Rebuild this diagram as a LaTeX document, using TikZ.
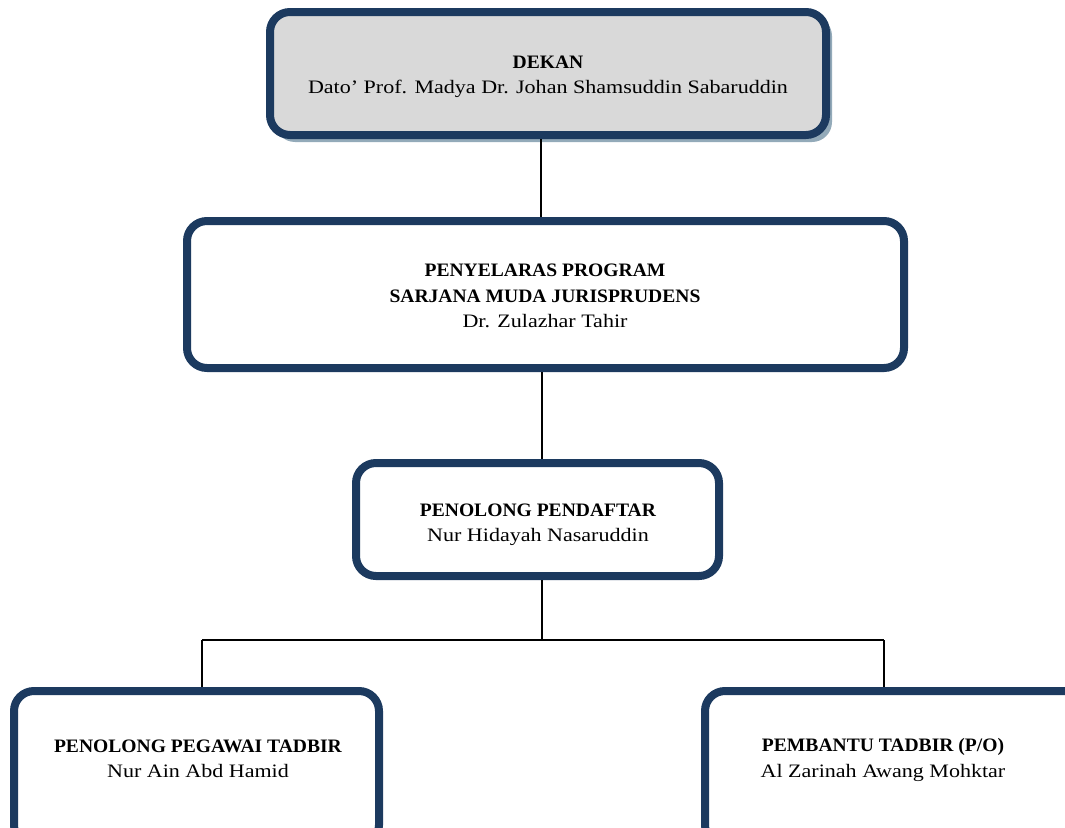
\documentclass[tikz,border=0pt]{standalone}
\usepackage{fontspec}
\setmainfont{Liberation Serif}[UprightFeatures={FakeStretch=1.16},BoldFeatures={FakeStretch=1.03}]
\definecolor{boxblue}{HTML}{1C3A5F}
\definecolor{shadowblue}{HTML}{93AAB9}
\definecolor{boxgray}{HTML}{D9D9D9}
\begin{document}
\begin{tikzpicture}[x=1pt,y=-1pt,
  orgbox/.style={draw=boxblue, line width=8pt, rounded corners=20pt, fill=white},
  conn/.style={draw=black, line width=1.8pt},
  lbl/.style={align=center, font=\fontsize{19}{25.5}\selectfont, inner sep=0pt}]
\useasboundingbox (0,0) rectangle (1065,827);
\clip (0,0) rectangle (1065,827);
\coordinate (j1) at (542,640);
\coordinate (jl) at (202,640);
\coordinate (jr) at (884,640);
% Dekan
\fill[shadowblue, rounded corners=20pt] (275,16) rectangle (832,142);
\draw[orgbox, fill=boxgray] (270,12) rectangle (826,135);
\node[lbl] (dekan) at (548,77) {\textbf{DEKAN}\\Dato’ Prof. Madya Dr. Johan Shamsuddin Sabaruddin};
% Penyelaras
\draw[orgbox] (187,221) rectangle (904,368);
\node[lbl] (peny) at (545,296) {\textbf{PENYELARAS PROGRAM}\\\textbf{SARJANA MUDA JURISPRUDENS}\\Dr. Zulazhar Tahir};
% Penolong pendaftar
\draw[orgbox] (356,463) rectangle (719,576);
\node[lbl] (pend) at (538,525) {\textbf{PENOLONG PENDAFTAR}\\Nur Hidayah Nasaruddin};
% bottom boxes
\draw[orgbox] (14,691) rectangle (379,845);
\node[lbl] (ppt) at (198,759) {\textbf{PENOLONG PEGAWAI TADBIR}\\Nur Ain Abd Hamid};
\draw[orgbox] (705,691) rectangle (1085,845);
\node[lbl] (pt) at (883,760) {\textbf{PEMBANTU TADBIR (P/O)}\\Al Zarinah Awang Mohktar};
% connection points
\coordinate (dekB) at (541,139);
\coordinate (penyT) at (541,217);
\coordinate (penyB) at (542,372);
\coordinate (pendT) at (542,459);
\coordinate (pendB) at (542,580);
\coordinate (pptT) at (202,687);
\coordinate (ptT) at (884,687);
\draw[conn] (dekB) -- (penyT);
\draw[conn] (penyB) -- (pendT);
\draw[conn] (pendB) -- (j1);
\draw[conn] (jl) -- (jr);
\draw[conn] (jl) -- (pptT);
\draw[conn] (jr) -- (ptT);
\end{tikzpicture}
\end{document}
